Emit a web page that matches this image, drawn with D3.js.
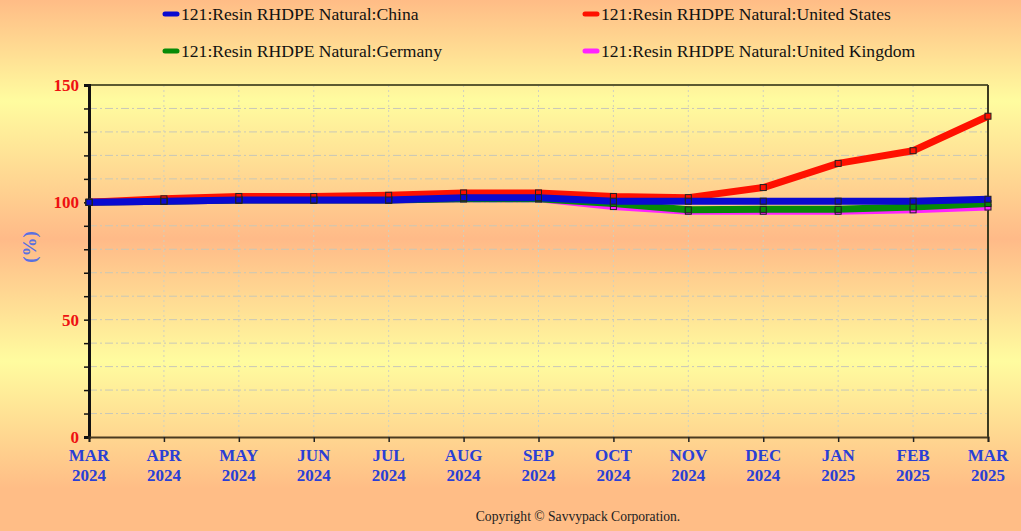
<!DOCTYPE html>
<html>
<head>
<meta charset="utf-8">
<script src="https://cdn.jsdelivr.net/npm/d3@7"></script>
<style>
  html, body { margin: 0; padding: 0; }
  body { width: 1021px; height: 531px; overflow: hidden; }
</style>
</head>
<body>
<script>
// chart data
const months = ["MAR 2024", "APR 2024", "MAY 2024", "JUN 2024", "JUL 2024", "AUG 2024",
                "SEP 2024", "OCT 2024", "NOV 2024", "DEC 2024", "JAN 2025", "FEB 2025", "MAR 2025"];
const china   = [100, 100.5, 101, 101, 101, 102, 102, 100.5, 100.5, 100.5, 100.5, 100.5, 101.3];
const usa     = [100, 101.5, 102.5, 102.5, 103, 104, 104, 102.5, 102, 106.3, 116.6, 122, 136.7];
const germany = [100, 100.5, 101, 101, 101, 101.5, 101.5, 99.5, 96.8, 97, 97, 98, 99.5];
const uk      = [100, 100.5, 101, 101, 101, 101.5, 101.5, 98.2, 96.2, 96.2, 96.2, 96.8, 98];
const yTicks  = [0, 50, 100, 150];

const W = 1021, H = 531;
const margin = {left: 89, right: 33, top: 85, bottom: 94};
const serif = "'Liberation Serif', 'Times New Roman', serif";

let svg = d3.select("body").append("svg")
    .attr("width", W)
    .attr("height", H);

// background gradient
let grad = svg.append("defs").append("linearGradient")
    .attr("id", "bg")
    .attr("x1", 0).attr("y1", 0).attr("x2", 0).attr("y2", 1);
[[0, "#ffbc86"], [0.19, "#fffc9f"], [0.45, "#ffba88"], [0.68, "#fffc9f"], [0.92, "#ffbd86"], [1, "#ffbd86"]]
    .forEach(s => grad.append("stop").attr("offset", s[0]).attr("stop-color", s[1]));

svg.append("rect")
    .attr("width", W).attr("height", H)
    .attr("fill", "url(#bg)");

let x = d3.scalePoint()
    .domain(months)
    .range([margin.left, W - margin.right]);

let y = d3.scaleLinear()
    .domain([0, 150])
    .range([H - margin.bottom, margin.top]);

// grid lines
svg.append("g")
    .selectAll("line")
    .data(d3.range(10, 151, 10))
    .enter().append("line")
    .attr("x1", margin.left).attr("x2", W - margin.right)
    .attr("y1", d => y(d)).attr("y2", d => y(d))
    .style("stroke", "#c8c8b8")
    .style("stroke-width", 1)
    .style("stroke-dasharray", "8,3,2,3");

svg.append("g")
    .selectAll("line")
    .data(months.slice(1, -1))
    .enter().append("line")
    .attr("x1", d => x(d)).attr("x2", d => x(d))
    .attr("y1", y(0)).attr("y2", y(150))
    .style("stroke", "#d0d0c0")
    .style("stroke-width", 1)
    .style("stroke-dasharray", "2,3");

// top and right frame
svg.append("line")
    .attr("x1", margin.left).attr("x2", W - margin.right)
    .attr("y1", y(150)).attr("y2", y(150))
    .style("stroke", "#5c5a30").style("stroke-width", 2);
svg.append("line")
    .attr("x1", W - margin.right).attr("x2", W - margin.right)
    .attr("y1", y(150)).attr("y2", y(0))
    .style("stroke", "#3c3a20").style("stroke-width", 2);

// y axis
let yAxis = svg.append("g")
    .attr("transform", `translate(${margin.left},0)`)
    .call(d3.axisLeft(y).tickValues(d3.range(0, 151, 10)).tickSize(5).tickFormat(""));
yAxis.select(".domain").style("stroke", "#111").style("stroke-width", 3);
yAxis.selectAll(".tick line").style("stroke", "#111").style("stroke-width", 1.5);

svg.append("g")
    .selectAll("text")
    .data(yTicks)
    .enter().append("text")
    .attr("x", margin.left - 10)
    .attr("y", d => y(d) + 6)
    .attr("text-anchor", "end")
    .style("font-family", serif)
    .style("font-weight", "bold")
    .style("font-size", "17px")
    .style("fill", "#ee1111")
    .text(d => d);

// x axis
let xAxis = svg.append("g")
    .attr("transform", `translate(0,${y(0)})`)
    .call(d3.axisBottom(x).tickSize(5).tickFormat(""));
xAxis.select(".domain").style("stroke", "#4a3a20").style("stroke-width", 2);
xAxis.selectAll(".tick line").style("stroke", "#222").style("stroke-width", 1.5);

let xl = svg.append("g")
    .selectAll("text")
    .data(months)
    .enter().append("text")
    .attr("x", d => x(d))
    .attr("y", y(0) + 24)
    .attr("text-anchor", "middle")
    .style("font-family", serif)
    .style("font-weight", "bold")
    .style("font-size", "17px")
    .style("fill", "#2a3fd6");
xl.append("tspan").attr("x", d => x(d)).text(d => d.split(" ")[0]);
xl.append("tspan").attr("x", d => x(d)).attr("dy", 20).text(d => d.split(" ")[1]);

// y title
svg.append("text")
    .attr("transform", "translate(36,247) rotate(-90)")
    .attr("text-anchor", "middle")
    .style("font-family", serif)
    .style("font-weight", "bold")
    .style("font-size", "19px")
    .style("fill", "#5a70e0")
    .text("(%)");

// series
const series = [
  {name: "121:Resin RHDPE Natural:United Kingdom", color: "#ff22ff", values: uk},
  {name: "121:Resin RHDPE Natural:Germany", color: "#078a07", values: germany},
  {name: "121:Resin RHDPE Natural:United States", color: "#ff1100", values: usa},
  {name: "121:Resin RHDPE Natural:China", color: "#0a0ad0", values: china}
];

let line = d3.line()
    .x((d, i) => x(months[i]))
    .y(d => y(d));

series.forEach(s => {
  svg.append("path")
      .datum(s.values)
      .attr("d", line)
      .style("fill", "none")
      .style("stroke", s.color)
      .style("stroke-width", 7)
      .style("stroke-linejoin", "round");
});

series.forEach(s => {
  svg.append("g")
      .selectAll("rect")
      .data(s.values)
      .enter().append("rect")
      .attr("x", (d, i) => x(months[i]) - 3)
      .attr("y", d => y(d) - 3)
      .attr("width", 6).attr("height", 6)
      .style("fill", s.color)
      .style("stroke", "#222")
      .style("stroke-width", 1);
});

// legend
const legendItems = [
  {name: "121:Resin RHDPE Natural:China", color: "#0a0ad0", x: 163, y: 14},
  {name: "121:Resin RHDPE Natural:United States", color: "#ff1100", x: 583, y: 14},
  {name: "121:Resin RHDPE Natural:Germany", color: "#078a07", x: 163, y: 51},
  {name: "121:Resin RHDPE Natural:United Kingdom", color: "#ff22ff", x: 583, y: 51}
];

let lg = svg.append("g")
    .selectAll("g")
    .data(legendItems)
    .enter().append("g")
    .attr("transform", d => `translate(${d.x},${d.y})`);
lg.append("line")
    .attr("x1", 2).attr("x2", 14)
    .style("stroke", d => d.color)
    .style("stroke-width", 5)
    .style("stroke-linecap", "round");
lg.append("text")
    .attr("x", 18).attr("y", 6)
    .style("font-family", serif)
    .style("font-size", "17.6px")
    .style("fill", "#111")
    .text(d => d.name);

// footer
svg.append("text")
    .attr("x", 578).attr("y", 521)
    .attr("text-anchor", "middle")
    .style("font-family", serif)
    .style("font-size", "13.6px")
    .style("fill", "#222")
    .text("Copyright \u00A9 Savvypack Corporation.");
</script>
</body>
</html>
